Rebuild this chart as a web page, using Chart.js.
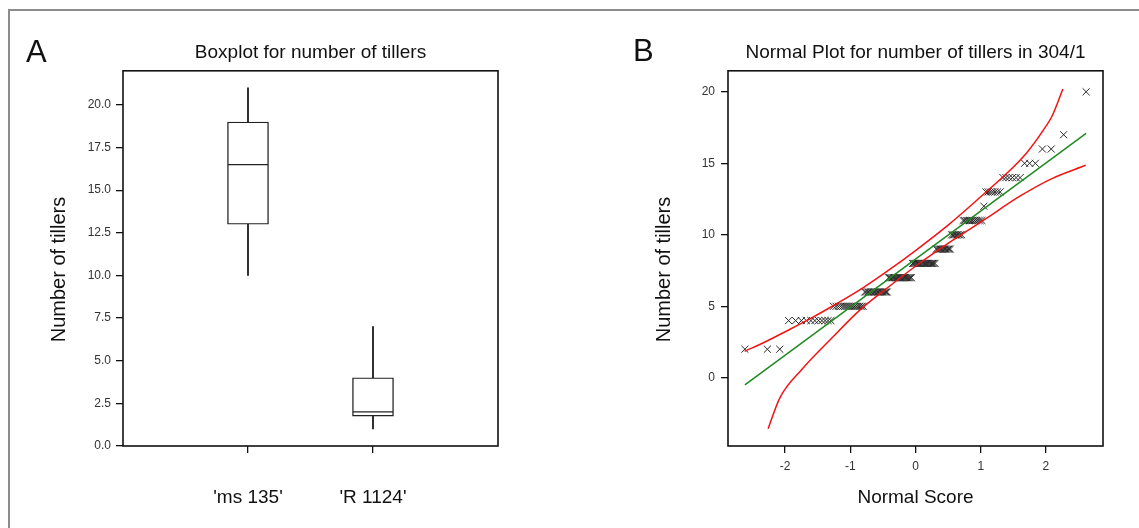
<!DOCTYPE html>
<html>
<head>
<meta charset="utf-8">
<script src="https://cdn.jsdelivr.net/npm/chart.js@4.4.0/dist/chart.umd.min.js"></script>
<style>
  body { margin:0; width:1139px; height:528px; overflow:hidden; background:#fff; font-family:"Liberation Sans", Arial, sans-serif; }
  #frame { position:absolute; left:8px; top:9px; width:1200px; height:600px; border-top:2px solid #8c8c8c; border-left:2px solid #8c8c8c; }
  .panel { position:absolute; top:0; height:528px; }
  .letter { position:absolute; font-size:31px; color:#111; line-height:1.15; }
</style>
</head>
<body>
<div id="frame"></div>
<div class="panel" style="left:0; width:570px;"><canvas id="boxplot"></canvas></div>
<div class="panel" style="left:570px; width:569px;"><canvas id="normplot"></canvas></div>
<div class="letter" style="left:26px; top:34px;">A</div>
<div class="letter" style="left:633px; top:33px;">B</div>

<script>
// panel A - boxplot
var categories = ["'ms 135'", "'R 1124'"];
var whiskerLow  = [10, 1];
var quartile1   = [13, 1.75];
var medians     = [16.5, 2];
var quartile3   = [19, 4];
var whiskerHigh = [21, 7];
var boxTicks = [0, 2.5, 5, 7.5, 10, 12.5, 15, 17.5, 20];

// panel B - normal plot, tiller value and normal scores of the points at that value
var tillerGroups = [2, 4, 5, 6, 7, 8, 9, 10, 11, 12, 13, 14, 15, 16, 17, 20];
var groupScores = [
  [-2.616, -2.271, -2.081],
  [-1.946, -1.838, -1.750, -1.673, -1.604, -1.543, -1.486, -1.434, -1.386, -1.341, -1.298],
  [-1.258, -1.219, -1.182, -1.147, -1.113, -1.080, -1.049, -1.018, -0.989, -0.960, -0.932, -0.905, -0.878, -0.853, -0.827, -0.802],
  [-0.778, -0.754, -0.730, -0.707, -0.684, -0.661, -0.639, -0.618, -0.596, -0.575, -0.554, -0.534, -0.513, -0.493, -0.473, -0.453, -0.433],
  [-0.414, -0.394, -0.375, -0.356, -0.337, -0.318, -0.299, -0.281, -0.262, -0.244, -0.225, -0.207, -0.189, -0.171, -0.153, -0.135, -0.117, -0.099, -0.081, -0.063],
  [-0.045, -0.027, -0.009, 0.009, 0.027, 0.045, 0.063, 0.081, 0.099, 0.117, 0.135, 0.153, 0.171, 0.189, 0.207, 0.225, 0.244, 0.262, 0.281, 0.299],
  [0.318, 0.337, 0.356, 0.375, 0.394, 0.414, 0.433, 0.453, 0.473, 0.493, 0.513, 0.534],
  [0.554, 0.575, 0.596, 0.618, 0.639, 0.661, 0.684, 0.707],
  [0.730, 0.754, 0.778, 0.802, 0.827, 0.853, 0.878, 0.905, 0.932, 0.960, 0.989, 1.018],
  [1.049],
  [1.080, 1.113, 1.147, 1.182, 1.219, 1.258, 1.298],
  [1.341, 1.386, 1.434, 1.486, 1.543, 1.604],
  [1.673, 1.750, 1.838],
  [1.946, 2.081],
  [2.271],
  [2.616]
];
var fitX = [-2.616, 2.616];
var fitY = [-0.5, 17.1];
var upperX = [-2.62, -2.3, -1.96, -1.6, -1.29, -0.8, -0.4, 0, 0.5, 1.0, 1.4, 1.7, 1.95, 2.1, 2.26];
var upperY = [1.85, 2.52, 3.31, 4.17, 4.97, 6.31, 7.56, 8.9, 10.68, 12.66, 14.3, 15.71, 17.25, 18.36, 20.2];
var lowerX = [-2.26, -2.08, -1.74, -1.29, -0.85, -0.4, 0, 0.55, 1.07, 1.6, 2.1, 2.61];
var lowerY = [-3.56, -1.4, 0.6, 2.75, 4.75, 6.4, 7.8, 9.55, 11.1, 12.7, 13.95, 14.86];
var normXTicks = [-2, -1, 0, 1, 2];
var normYTicks = [0, 5, 10, 15, 20];

Chart.defaults.font.family = '"Liberation Sans", Arial, sans-serif';
Chart.defaults.color = '#222';

// box round the plot area
var framePlugin = {
  id: 'frame',
  afterDatasetsDraw: function(chart) {
    var a = chart.chartArea, ctx = chart.ctx;
    ctx.save();
    ctx.strokeStyle = '#111';
    ctx.lineWidth = 1.6;
    ctx.strokeRect(a.left, a.top, a.right - a.left, a.bottom - a.top);
    ctx.restore();
  }
};

function fixTicks(list) {
  return function(axis) { axis.ticks = list.map(function(v) { return { value: v }; }); };
}
function pairs(xs, ys) {
  return xs.map(function(x, i) { return { x: x, y: ys[i] }; });
}
var tickGrid = { drawOnChartArea: false, offset: false, tickLength: 7, color: '#111', lineWidth: 1.3 };
// trailing spaces push the rotated title a little below the middle, as in the original
var yTitle = 'Number of tillers    ';

new Chart(document.getElementById('boxplot'), {
  type: 'bar',
  data: {
    datasets: [
      {
        label: 'median',
        type: 'line',
        data: categories.map(function(c, i) { return { x: i + 1, y: medians[i] }; }),
        showLine: false,
        pointStyle: 'line',
        pointRadius: 20,
        pointHoverRadius: 20,
        borderColor: '#222',
        borderWidth: 1.4,
        order: 1
      },
      {
        label: 'box',
        data: categories.map(function(c, i) { return { x: i + 1, y: [quartile1[i], quartile3[i]] }; }),
        backgroundColor: '#fff',
        borderColor: '#222',
        borderWidth: 1.4,
        borderSkipped: false,
        barThickness: 41,
        grouped: false,
        order: 2
      },
      {
        label: 'whisker',
        data: categories.map(function(c, i) { return { x: i + 1, y: [whiskerLow[i], whiskerHigh[i]] }; }),
        backgroundColor: '#222',
        barThickness: 1.2,
        grouped: false,
        order: 3
      }
    ]
  },
  options: {
    responsive: true,
    maintainAspectRatio: false,
    animation: false,
    layout: { padding: { left: 40, right: 72, top: 0, bottom: 0 } },
    plugins: {
      legend: { display: false },
      tooltip: { enabled: false },
      title: {
        display: true,
        text: 'Boxplot for number of tillers',
        fullSize: false,
        font: { size: 19, weight: 'normal' },
        color: '#111',
        padding: { top: 41, bottom: 7 }
      }
    },
    scales: {
      x: {
        type: 'linear',
        min: 0,
        max: 3,
        offset: false,
        afterBuildTicks: fixTicks([1, 2]),
        afterFit: function(s) { s.height = 82; },
        ticks: {
          callback: function(v) { return categories[v - 1]; },
          font: { size: 19 },
          color: '#111',
          padding: 33,
          maxRotation: 0
        },
        grid: tickGrid,
        border: { display: false }
      },
      y: {
        min: 0,
        max: 22,
        afterBuildTicks: fixTicks(boxTicks),
        afterFit: function(s) { s.width = 83; },
        ticks: {
          callback: function(v) { return v.toFixed(1); },
          font: { size: 12 },
          color: '#333',
          padding: 5
        },
        grid: tickGrid,
        border: { display: false },
        title: {
          display: true,
          text: yTitle,
          font: { size: 20 },
          color: '#111',
          padding: { top: 7, bottom: 0 }
        }
      }
    }
  },
  plugins: [framePlugin]
});

var points = [];
tillerGroups.forEach(function(val, g) {
  groupScores[g].forEach(function(s) { points.push({ x: s, y: val }); });
});

new Chart(document.getElementById('normplot'), {
  type: 'scatter',
  data: {
    datasets: [
      {
        label: 'fit',
        data: pairs(fitX, fitY),
        showLine: true,
        pointRadius: 0,
        borderColor: '#1f8a1f',
        borderWidth: 1.5,
        order: 1
      },
      {
        label: 'upper',
        data: pairs(upperX, upperY),
        showLine: true,
        pointRadius: 0,
        borderColor: '#f21414',
        borderWidth: 1.5,
        cubicInterpolationMode: 'monotone',
        order: 1
      },
      {
        label: 'lower',
        data: pairs(lowerX, lowerY),
        showLine: true,
        pointRadius: 0,
        borderColor: '#f21414',
        borderWidth: 1.5,
        cubicInterpolationMode: 'monotone',
        order: 1
      },
      {
        label: 'tillers',
        data: points,
        pointStyle: 'crossRot',
        pointRadius: 5,
        pointHoverRadius: 5,
        borderColor: '#2a2a2a',
        backgroundColor: 'transparent',
        borderWidth: 1,
        order: 2
      }
    ]
  },
  options: {
    responsive: true,
    maintainAspectRatio: false,
    animation: false,
    layout: { padding: { left: 70, right: 36, top: 0, bottom: 0 } },
    plugins: {
      legend: { display: false },
      tooltip: { enabled: false },
      title: {
        display: true,
        text: 'Normal Plot for number of tillers in 304/1',
        fullSize: false,
        font: { size: 19, weight: 'normal' },
        color: '#111',
        padding: { top: 41, bottom: 7 }
      }
    },
    scales: {
      x: {
        min: -2.875,
        max: 2.875,
        afterBuildTicks: fixTicks(normXTicks),
        afterFit: function(s) { s.height = 82; },
        ticks: { font: { size: 12 }, color: '#333', padding: 6 },
        grid: tickGrid,
        border: { display: false },
        title: {
          display: true,
          text: 'Normal Score',
          font: { size: 19 },
          color: '#111',
          padding: { top: 0, bottom: 19 }
        }
      },
      y: {
        min: -4.77,
        max: 21.47,
        afterBuildTicks: fixTicks(normYTicks),
        afterFit: function(s) { s.width = 88; },
        ticks: { font: { size: 12 }, color: '#333', padding: 6 },
        grid: tickGrid,
        border: { display: false },
        title: {
          display: true,
          text: yTitle,
          font: { size: 20 },
          color: '#111',
          padding: { top: 12, bottom: 0 }
        }
      }
    }
  },
  plugins: [framePlugin]
});
</script>
</body>
</html>
